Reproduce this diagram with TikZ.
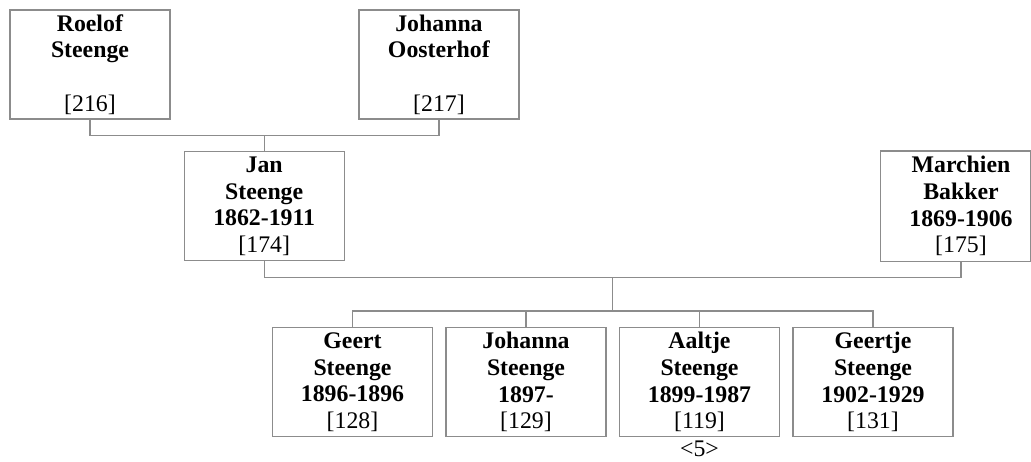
\documentclass[tikz,border=0pt]{standalone}
\usepackage{fontspec}
\setmainfont{Liberation Serif}
\usetikzlibrary{calc}
\definecolor{linegray}{rgb}{0.55,0.55,0.55}
\tikzset{
  person/.style={draw=linegray, line width=1.3pt, minimum width=160pt, minimum height=109pt,
    text width=150pt, inner sep=0pt, align=center,
    font=\fontsize{23.8}{26.7}\selectfont},
  link/.style={draw=linegray, line width=1.3pt},
}
\begin{document}
\begin{tikzpicture}[x=1pt, y=-1pt]
      \useasboundingbox (0,0) rectangle (1031,461);
      % nodes
      \node[person] (r216) at (90, 64.5) {\textbf{Roelof}\\\textbf{Steenge}\\\mbox{}\\{[216]}};
      \node[person] (j217) at (439, 64.5) {\textbf{Johanna}\\\textbf{Oosterhof}\\\mbox{}\\{[217]}};
      \node[person] (jan174) at (264.2, 206.2) {\textbf{Jan}\\\textbf{Steenge}\\\textbf{1862-1911}\\{[174]}};
      \node[person, draw=none] (mb175) at (961, 206.2) {\textbf{Marchien}\\\textbf{Bakker}\\\textbf{1869-1906}\\{[175]}};
      \draw[link] (mb175.north west) rectangle ([xshift=-11pt]mb175.south east);
      \node[person] (g128) at (352.5, 382.2) {\textbf{Geert}\\\textbf{Steenge}\\\textbf{1896-1896}\\{[128]}};
      \node[person] (j129) at (526, 382.2) {\textbf{Johanna}\\\textbf{Steenge}\\\textbf{1897-}\\{[129]}};
      \node[person] (a119) at (699.5, 382.2) {\textbf{Aaltje}\\\textbf{Steenge}\\\textbf{1899-1987}\\{[119]}};
      \node[person] (g131) at (873, 382.2) {\textbf{Geertje}\\\textbf{Steenge}\\\textbf{1902-1929}\\{[131]}};
      \node[font=\fontsize{23.8}{26.7}\selectfont, inner sep=0pt] (gen5) at (699.5, 449) {<5>};
      % lines
      \draw[link] (r216.south) -- ++(0,16) -| (j217.south);
      \draw[link] (jan174.north) -- ++(0,-16.5);
      \draw[link] (jan174.south) -- ++(0,16) -| (mb175.south);
      \coordinate (fam2) at ($(jan174.south)!.5!(mb175.south)+(0,16)$);
      \draw[link] (fam2) -- ++(0,35);
      \draw[link] (g128.north) -- ++(0,-16) -| (g131.north);
      \draw[link] (j129.north) -- ++(0,-16);
      \draw[link] (a119.north) -- ++(0,-16);
\end{tikzpicture}
\end{document}
